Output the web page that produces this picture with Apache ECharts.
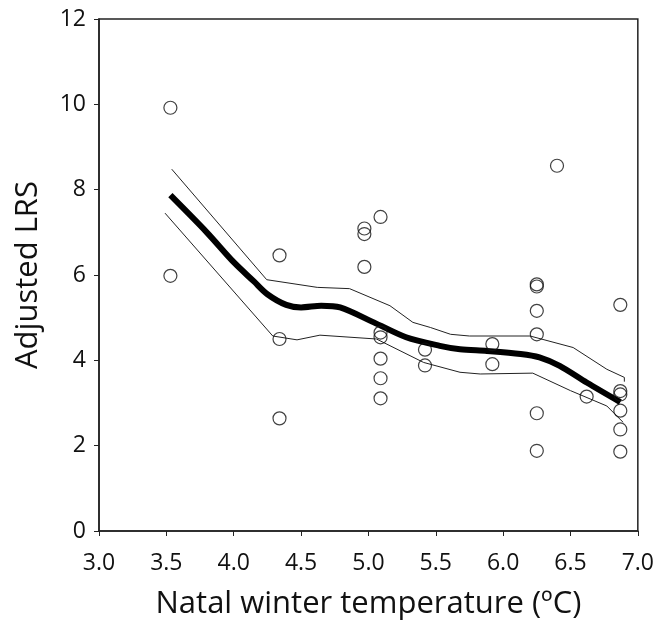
<!DOCTYPE html>
<html>
<head>
<meta charset="utf-8">
<script src="https://cdn.jsdelivr.net/npm/echarts@6/dist/echarts.min.js"></script>
<style>
  html, body { margin: 0; padding: 0; background: #fff; }
  #chart { width: 657px; height: 625px; }
</style>
</head>
<body>
<div id="chart"></div>
<script>
// 散点：出生地冬季温度 vs 调整后 LRS
const tempX = [3.53, 3.53, 4.34, 4.34, 4.34, 4.97, 4.97, 4.97,
  5.09, 5.09, 5.09, 5.09, 5.09, 5.09, 5.42, 5.42, 5.92, 5.92,
  6.25, 6.25, 6.25, 6.25, 6.25, 6.25, 6.40, 6.62,
  6.87, 6.87, 6.87, 6.87, 6.87, 6.87]
const lrsY = [9.92, 5.98, 6.46, 4.50, 2.64, 7.09, 6.96, 6.19,
  7.36, 4.65, 4.54, 4.04, 3.58, 3.11, 4.25, 3.88, 4.38, 3.91,
  5.78, 5.73, 5.16, 4.61, 2.76, 1.88, 8.56, 3.15,
  5.30, 3.28, 3.20, 2.82, 2.38, 1.86]

// 拟合曲线
const fitX = [3.53, 3.8, 4.0, 4.15, 4.25, 4.39, 4.5, 4.65, 4.79, 5.04, 5.28, 5.53, 5.68, 5.88, 6.13, 6.27, 6.42, 6.62, 6.87]
const fitY = [7.87, 7.0, 6.3, 5.85, 5.55, 5.30, 5.24, 5.28, 5.24, 4.89, 4.54, 4.34, 4.26, 4.22, 4.15, 4.07, 3.87, 3.48, 3.02]

// 置信区间上下限
const upperX = [3.54, 4.245, 4.62, 4.86, 5.16, 5.33, 5.46, 5.61, 5.75, 6.20, 6.52, 6.77, 6.90, 6.90]
const upperY = [8.48, 5.89, 5.71, 5.68, 5.28, 4.89, 4.77, 4.61, 4.57, 4.57, 4.30, 3.79, 3.60, 3.50]
const lowerX = [3.49, 4.29, 4.47, 4.64, 5.06, 5.41, 5.68, 5.83, 6.22, 6.50, 6.77, 6.89]
const lowerY = [7.45, 4.57, 4.48, 4.59, 4.50, 3.95, 3.72, 3.68, 3.70, 3.29, 2.93, 2.55]

const xTicks = [3, 7, 0.5]
const yTicks = [0, 12, 2]

const zip = (xs, ys) => xs.map((x, i) => [x, ys[i]])
const font = '"Open Sans", sans-serif'

const chart = echarts.init(document.getElementById('chart'))
chart.setOption({
  animation: false,
  backgroundColor: '#fff',
  grid: {
    left: 99, top: 19, right: 19, bottom: 93,
    show: true, borderColor: '#222', borderWidth: 1.5,
  },
  xAxis: {
    type: 'value',
    min: xTicks[0], max: xTicks[1], interval: xTicks[2],
    name: 'Natal winter temperature (ºC)',
    nameLocation: 'middle',
    nameGap: 58,
    nameTextStyle: { fontFamily: font, fontSize: 31, color: '#111' },
    axisLine: { lineStyle: { color: '#222', width: 1.5 } },
    axisTick: { show: true, inside: false, length: 5, lineStyle: { color: '#222' } },
    axisLabel: { fontFamily: font, fontSize: 23, color: '#111', margin: 21, formatter: v => v.toFixed(1) },
    splitLine: { show: false },
  },
  yAxis: {
    type: 'value',
    min: yTicks[0], max: yTicks[1], interval: yTicks[2],
    name: 'Adjusted LRS',
    nameLocation: 'middle',
    nameGap: 55,
    nameTextStyle: { fontFamily: font, fontSize: 31, color: '#111' },
    axisLine: { show: true, lineStyle: { color: '#222', width: 1.5 } },
    axisTick: { show: true, inside: false, length: 5, lineStyle: { color: '#222' } },
    axisLabel: { fontFamily: font, fontSize: 23, color: '#111', margin: 13 },
    splitLine: { show: false },
  },
  series: [
    {
      type: 'line',
      data: zip(upperX, upperY),
      showSymbol: false,
      lineStyle: { color: '#222', width: 1 },
    },
    {
      type: 'line',
      data: zip(lowerX, lowerY),
      showSymbol: false,
      lineStyle: { color: '#222', width: 1 },
    },
    {
      type: 'line',
      data: zip(fitX, fitY),
      smooth: 0.3,
      showSymbol: false,
      lineStyle: { color: '#000', width: 6 },
      z: 3,
    },
    {
      type: 'scatter',
      data: zip(tempX, lrsY),
      symbol: 'circle',
      symbolSize: 13,
      itemStyle: { color: 'rgba(0,0,0,0)', borderColor: '#111', borderWidth: 1.2 },
      z: 4,
    },
  ],
})
</script>
</body>
</html>
